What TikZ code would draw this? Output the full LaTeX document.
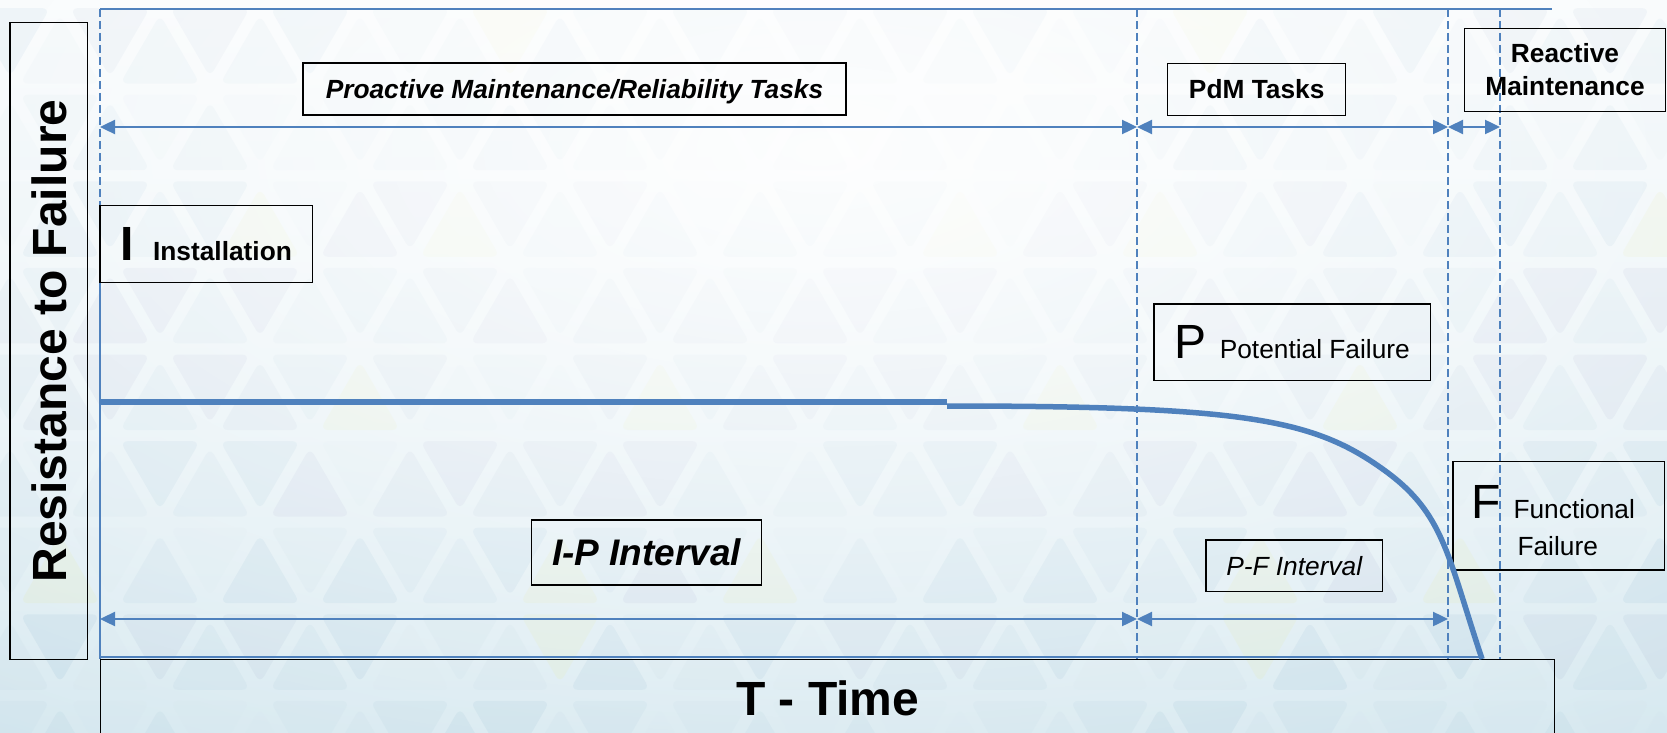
\documentclass[tikz,border=0pt]{standalone}
\usepackage{fontspec}
\setmainfont{Liberation Sans}
\usepackage{tikz}
\usetikzlibrary{arrows.meta, positioning, fadings}

\definecolor{axisblue}{RGB}{79,129,189}
\definecolor{bgtop}{RGB}{245,249,251}
\definecolor{bgbottom}{RGB}{206,228,237}
\definecolor{tricol0}{RGB}{140,150,195}
\definecolor{tricol1}{RGB}{215,225,130}
\definecolor{tricol2}{RGB}{120,170,200}
\definecolor{tricol3}{RGB}{175,205,220}
\definecolor{tricol4}{RGB}{150,190,212}
\definecolor{tricol5}{RGB}{145,170,200}
\definecolor{tricol6}{RGB}{200,222,232}

\newcommand{\boxfont}{\fontsize{26.3}{33}\selectfont}
\newcommand{\letterfont}{\fontsize{48}{52}\selectfont}

\tikzfading[name=glow, inner color=transparent!0, outer color=transparent!100]

\tikzset{
	>={Triangle[length=15pt,width=14pt]},
	labelbox/.style={draw=black, line width=1.3pt, inner sep=0pt},
	capline/.style={text height=18.8pt, text depth=0pt},
	guide/.style={draw=axisblue, line width=1.2pt, dash pattern=on 8pt off 4pt},
	interval/.style={<->, draw=axisblue, line width=2.4pt},
	lifeline/.style={draw=axisblue, line width=5.5pt},
	tri/.style={rounded corners=8pt, fill opacity=0.17},
}

\begin{document}
\begin{tikzpicture}[x=1pt, y=-1pt]
	\useasboundingbox (0,0) rectangle (1667,733);
	\clip (0,0) rectangle (1667,733);

	\shade[top color=bgtop, bottom color=bgbottom] (0,0) rectangle (1667,733);
	\foreach \m in {0,...,9} {
		\foreach \k in {0,...,17} {
			\pgfmathsetmacro\rowtop{349+86.6*(\m-5)}
			\pgfmathsetmacro\upx{60+50*mod(\m+1,2)+100*(\k-1)}
			\pgfmathtruncatemacro\pick{mod(\k*\k+3*\m+2*\k*\m,7)}
			\pgfmathtruncatemacro\pickb{mod(2*\k*\k+\m*\m+\k+5*\m+3,7)}
			\fill[tri, fill=tricol\pick] (\upx,\rowtop+12) -- (\upx+40,\rowtop+81) -- (\upx-40,\rowtop+81) -- cycle;
			\fill[tri, fill=tricol\pickb] (\upx+10,\rowtop+5.5) -- (\upx+90,\rowtop+5.5) -- (\upx+50,\rowtop+74.5) -- cycle;
		}
	}
	\fill[white, path fading=glow, fill opacity=0.92] (820,150) ellipse [x radius=1800, y radius=880];

	\foreach \gx/\gname in {100/i, 1137/p, 1448/f, 1500/r} {
		\draw[guide] (\gx,9) -- (\gx,659);
		\coordinate (top-\gname) at (\gx,127);
		\coordinate (low-\gname) at (\gx,619);
	}
	\draw[axisblue, line width=1.3pt] (100,9) -- (1552,9);
	\draw[axisblue, line width=1.3pt] (100,283) -- (100,657) -- (1482,657);

	\draw[interval] (top-i) -- (top-p);
	\draw[interval] (top-p) -- (top-f);
	\draw[interval] (top-f) -- (top-r);
	\draw[interval] (low-i) -- (low-p);
	\draw[interval] (low-p) -- (low-f);

	\node[labelbox, capline, minimum width=543, minimum height=52, font=\boxfont\bfseries\itshape] (proactive) at (574.5,89) {Proactive Maintenance/Reliability Tasks};
	\node[labelbox, capline, minimum width=178, minimum height=52, font=\boxfont\bfseries] (pdm) at (1256.7,89.2) {PdM Tasks};
	\node[labelbox, minimum width=200.6, minimum height=83.4, align=center, font=\boxfont\bfseries] (reactive) at (1565,70) {Reactive\\Maintenance};

	\node[labelbox, minimum width=212.7, minimum height=77] (install) at (206.3,244.2) {{\letterfont\bfseries I}\hspace{19pt}{\boxfont\bfseries Installation}};
	\node[labelbox, minimum width=276.7, minimum height=76.7] (potential) at (1292.3,342.3) {{\letterfont P}\hspace{13pt}{\boxfont Potential Failure}};
	\node[labelbox, minimum width=211.7, minimum height=108.3] (functional) at (1558.8,515.8) {};
	\node[anchor=base west, inner sep=0pt] (functext) at (1471,518) {\letterfont F\hspace{13pt}\fontsize{26.3}{37}\selectfont\begin{tabular}[t]{@{}l@{}}Functional\\\hspace*{4pt}Failure\end{tabular}};

	\node[labelbox, minimum width=230, minimum height=65, text height=26.5pt, text depth=0pt, font=\fontsize{37}{40}\selectfont\bfseries\itshape] (ipint) at (646.7,552.5) {I-P Interval};
	\node[labelbox, capline, minimum width=176.3, minimum height=51.7, font=\boxfont\itshape] (pfint) at (1294.2,565.8) {P-F Interval};

	\node[labelbox, rotate=90, minimum width=636.6, minimum height=77.7, text height=34.4pt, text depth=0pt, font=\letterfont\bfseries] (resist) at (48.9,341) {Resistance to Failure};
	\node[labelbox, minimum width=1454, minimum height=140, anchor=north west] (timebox) at (100,659) {};
	\node[inner sep=0pt, text height=34.4pt, text depth=0pt, font=\letterfont\bfseries, below=22pt of timebox.north] (timelabel) {T - Time};

	\draw[lifeline] (100,402) -- (947,402);
	\draw[lifeline] (947,406) .. controls (1247,406) and (1314,419.6) .. (1384,470)
		.. controls (1444,513.2) and (1447,554) .. (1482,659);
\end{tikzpicture}
\end{document}
